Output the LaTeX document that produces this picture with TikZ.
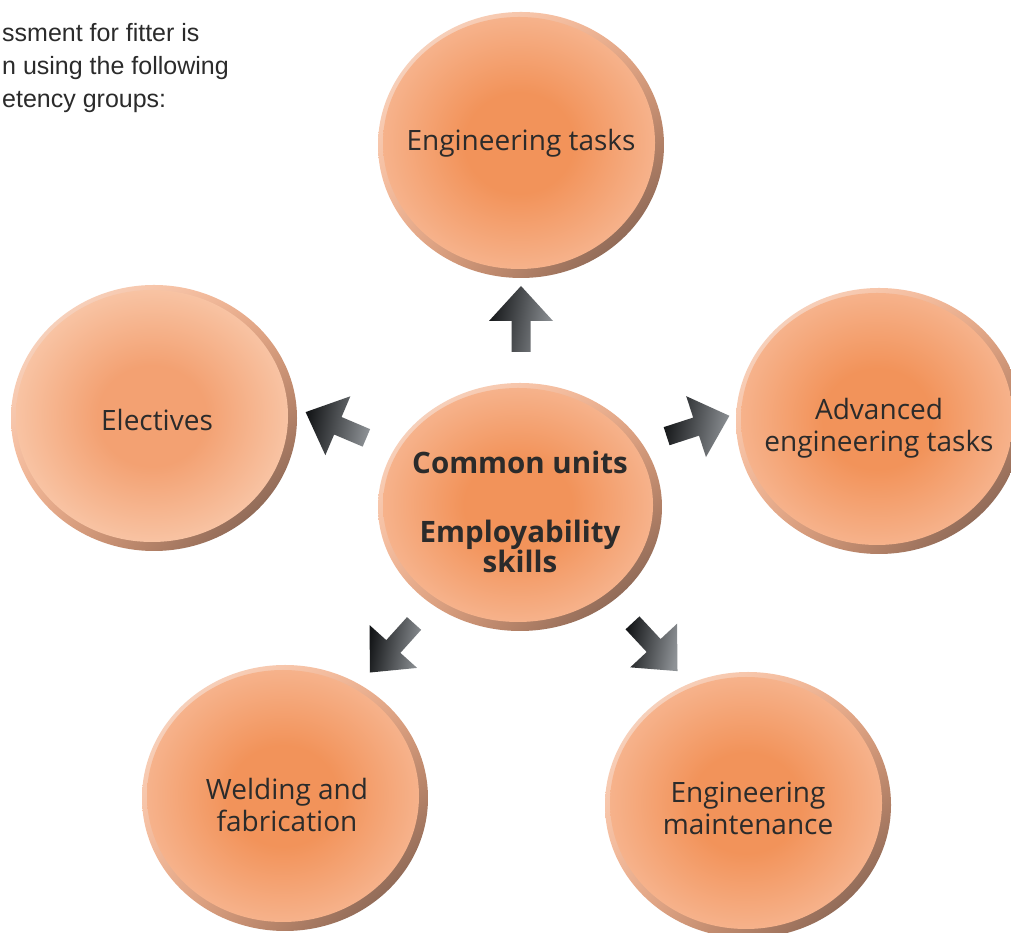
\documentclass[tikz,border=0pt]{standalone}
\usepackage{fontspec}
\setmainfont{Open Sans}
\newfontfamily\notefont{Liberation Sans}
\usetikzlibrary{shapes.geometric,shadings,calc}

\definecolor{peachin}{HTML}{F2935A}
\definecolor{peachout}{HTML}{F6B28B}
\definecolor{paleain}{HTML}{F3A172}
\definecolor{paleout}{HTML}{F8C3A3}
\definecolor{rimlight}{HTML}{FCE0D0}
\definecolor{rimside}{HTML}{F2AC86}
\definecolor{rimdark}{HTML}{6E5245}
\definecolor{txtgrey}{HTML}{2B2B2B}
\definecolor{arrowdark}{HTML}{141618}
\definecolor{arrowmid}{HTML}{3A3D40}
\definecolor{arrowlight}{HTML}{8E9296}

\pgfdeclareradialshading{bubbleglow}{\pgfpoint{0bp}{0bp}}{color(0bp)=(peachin); color(10bp)=(peachin); color(25bp)=(peachout); color(50bp)=(peachout)}
\pgfdeclareradialshading{bubblepale}{\pgfpoint{0bp}{0bp}}{color(0bp)=(paleain); color(10bp)=(paleain); color(25bp)=(paleout); color(50bp)=(paleout)}

\tikzset{bubble/.style={ellipse, inner sep=0, minimum width=286, minimum height=266,
    path picture={
      \shade[upper left=rimlight, upper right=rimside, lower left=rimside, lower right=rimdark]
        (path picture bounding box.south west) rectangle (path picture bounding box.north east);
      \shade[shading=#1] let \p1=($(path picture bounding box.north east)-(path picture bounding box.center)$) in
        ($(path picture bounding box.center)+(-2,2)$) ellipse [x radius=\x1-7pt, y radius=\y1-7pt];
    }},
  bubble/.default=bubbleglow,
  bubbletext/.style={inner sep=0, text=txtgrey, align=center, font=\fontsize{28}{32}\selectfont},
  fatarrow/.pic={
    \shade[left color=arrowdark, middle color=arrowmid, right color=arrowlight, shading angle=80]
      (-33,-9.5) -- (-2,-9.5) -- (-2,-32) -- (33,0) -- (-2,32) -- (-2,9.5) -- (-33,9.5) -- cycle;
  }
}

\begin{document}
\begin{tikzpicture}[x=1pt, y=1pt]
  \clip (0,0) rectangle (1011,933);
  \fill[white] (0,0) rectangle (1011,933);

  \node[anchor=north west, align=left, inner sep=0, text=txtgrey,
    font=\notefont\fontsize{25}{33}\selectfont] (note) at (2,910)
    {ssment for fitter is\\n using the following\\etency groups:};

  \node[bubble] (eng) at (521,788) {};
  \node[bubble=bubblepale] (elec) at (154,515) {};
  \node[bubble] (adv) at (879,512) {};
  \node[bubble, minimum width=284, minimum height=248] (core) at (520,426) {};
  \node[bubble] (weld) at (285,135) {};
  \node[bubble] (maint) at (748,128) {};

  \node[bubbletext] (engtxt) at ([yshift=2]eng) {Engineering tasks};
  \node[bubbletext] (electxt) at ([xshift=3,yshift=-2]elec) {Electives};
  \node[bubbletext] (advtxt) at ([yshift=-7]adv) {Advanced\\engineering tasks};
  \node[bubbletext, font=\fontsize{29.5}{30}\selectfont\bfseries] (coretxt) at ([yshift=-5]core)
    {Common units\\[39pt]Employability\\skills};
  \node[bubbletext] (weldtxt) at ([xshift=2,yshift=-7]weld) {Welding and\\fabrication};
  \node[bubbletext] (mainttxt) at ([yshift=-3]maint) {Engineering\\maintenance};

  % arrows out of the core
  \pic[rotate=90] (toeng) at (521,614) {fatarrow};
  \pic[rotate=157] (toelec) at (336,508) {fatarrow};
  \pic[rotate=18] (toadv) at (698,507) {fatarrow};
  \pic[rotate=228] (toweld) at (392,285) {fatarrow};
  \pic[rotate=-47] (tomaint) at (655,286) {fatarrow};
\end{tikzpicture}
\end{document}
